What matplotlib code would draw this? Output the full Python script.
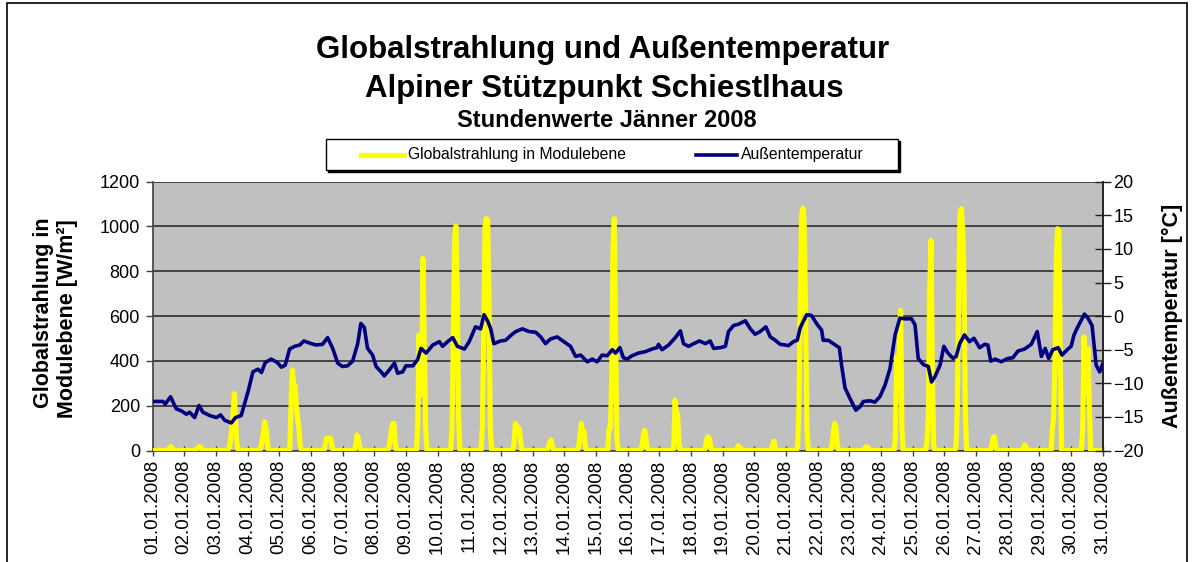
import matplotlib
matplotlib.use("Agg")
import matplotlib.pyplot as plt
from matplotlib.patches import Rectangle
from matplotlib.lines import Line2D
import numpy as np

plt.rcParams['font.family'] = ['Liberation Sans', 'DejaVu Sans']

# ---------------- data ----------------
date_labels = ["%02d.01.2008" % d for d in range(1, 32)]

# hours of the day for which radiation values are listed (others are 0)
rad_hours = [8, 9, 10, 11, 12, 13, 14, 15, 16, 17]
rad_daily = [
    [0, 0, 0, 0, 5, 12, 17, 10, 0, 0],          # 01.01
    [0, 0, 8, 15, 17, 10, 0, 0, 0, 0],          # 02.01
    [0, 0, 10, 40, 90, 150, 254, 128, 30, 0],   # 03.01
    [0, 0, 10, 40, 80, 128, 100, 40, 0, 0],     # 04.01
    [0, 200, 358, 290, 289, 200, 143, 98, 20, 0],  # 05.01
    [0, 0, 0, 30, 54, 54, 54, 54, 20, 0],       # 06.01
    [0, 0, 20, 69, 50, 15, 0, 0, 0, 0],         # 07.01
    [0, 0, 0, 10, 40, 90, 121, 121, 40, 0],     # 08.01
    [0, 100, 515, 350, 250, 857, 500, 100, 0, 0],   # 09.01
    [0, 0, 0, 100, 500, 950, 1002, 700, 150, 0],    # 10.01
    [0, 0, 100, 500, 1000, 1035, 1030, 700, 100, 0],# 11.01
    [0, 0, 30, 121, 110, 100, 98, 40, 0, 0],    # 12.01
    [0, 0, 0, 0, 15, 35, 47, 20, 0, 0],         # 13.01
    [0, 0, 0, 20, 60, 121, 60, 87, 20, 0],      # 14.01
    [0, 0, 98, 100, 300, 900, 1035, 500, 50, 0],# 15.01
    [0, 0, 0, 20, 70, 91, 60, 10, 0, 0],        # 16.01
    [0, 0, 0, 10, 225, 175, 160, 30, 0, 0],     # 17.01
    [0, 0, 0, 10, 50, 61, 55, 20, 0, 0],        # 18.01
    [0, 0, 0, 8, 22, 15, 5, 0, 0, 0],           # 19.01
    [0, 0, 0, 0, 0, 5, 20, 42, 10, 0],          # 20.01
    [0, 20, 200, 700, 1050, 1082, 1000, 600, 100, 0],  # 21.01
    [0, 0, 0, 20, 80, 121, 100, 30, 0, 0],      # 22.01
    [0, 0, 0, 0, 10, 17, 15, 5, 0, 0],          # 23.01
    [0, 0, 0, 50, 418, 290, 450, 626, 100, 0],  # 24.01
    [0, 0, 0, 40, 150, 700, 938, 400, 20, 0],   # 25.01
    [0, 20, 200, 700, 1050, 1080, 1000, 767, 200, 0],  # 26.01
    [0, 0, 0, 0, 20, 55, 61, 20, 0, 0],         # 27.01
    [0, 0, 0, 0, 10, 25, 15, 0, 0, 0],          # 28.01
    [0, 0, 98, 150, 400, 850, 990, 980, 400, 0],# 29.01
    [0, 100, 507, 262, 300, 455, 200, 0, 0, 0], # 30.01
]

# temperature readings: time in days since 01.01.2008 00:00, value in °C
temp_days = [0.0, 0.33, 0.40, 0.57, 0.75, 0.91, 1.07, 1.17, 1.33, 1.47, 1.59, 1.81,
             2.02, 2.15, 2.28, 2.49, 2.62, 2.80, 3.02, 3.17, 3.33, 3.44, 3.56, 3.75,
             3.94, 4.07, 4.19, 4.33, 4.49, 4.65, 4.78, 5.02, 5.16, 5.37, 5.53, 5.69,
             5.85, 6.00, 6.16, 6.32, 6.48, 6.58, 6.69, 6.79, 6.95, 7.06, 7.22, 7.32,
             7.48, 7.64, 7.74, 7.90, 8.00, 8.22, 8.37, 8.48, 8.64, 8.85, 9.06, 9.16,
             9.32, 9.48, 9.63, 9.85, 10.0, 10.20, 10.36, 10.47, 10.59, 10.68, 10.78,
             10.99, 11.15, 11.31, 11.47, 11.68, 11.89, 12.10, 12.26, 12.41, 12.57,
             12.78, 12.99, 13.20, 13.36, 13.52, 13.73, 13.89, 14.04, 14.20, 14.36,
             14.52, 14.62, 14.76, 14.87, 14.99, 15.14, 15.35, 15.56, 15.77, 15.93,
             15.98, 16.09, 16.30, 16.51, 16.67, 16.77, 16.93, 17.09, 17.27, 17.46,
             17.61, 17.72, 17.93, 18.09, 18.19, 18.35, 18.51, 18.72, 18.88, 19.03,
             19.19, 19.37, 19.51, 19.67, 19.82, 19.98, 20.08, 20.24, 20.36, 20.45,
             20.55, 20.66, 20.81, 20.97, 21.13, 21.18, 21.34, 21.50, 21.69, 21.76,
             21.87, 22.02, 22.21, 22.34, 22.45, 22.66, 22.81, 22.97, 23.13, 23.29,
             23.45, 23.60, 23.76, 23.97, 24.08, 24.18, 24.34, 24.50, 24.60, 24.71,
             24.87, 24.99, 25.12, 25.28, 25.38, 25.49, 25.64, 25.80, 25.94, 26.12,
             26.28, 26.38, 26.47, 26.61, 26.80, 27.01, 27.17, 27.33, 27.54, 27.75,
             27.94, 28.07, 28.19, 28.30, 28.43, 28.60, 28.72, 28.91, 29.01, 29.10,
             29.22, 29.43, 29.54, 29.67, 29.80, 29.91, 30.0]
temp_vals = [-12.7, -12.7, -13.1, -12.0, -13.8, -14.1, -14.6, -14.3, -15.1, -13.3, -14.3, -14.8,
             -15.1, -14.7, -15.5, -15.9, -15.1, -14.8, -11.2, -8.3, -7.9, -8.4, -6.9, -6.4,
             -6.9, -7.6, -7.3, -4.9, -4.5, -4.3, -3.7, -4.1, -4.3, -4.2, -3.2, -4.8,
             -7.0, -7.5, -7.4, -6.7, -4.1, -1.1, -1.7, -4.8, -5.8, -7.5, -8.3, -8.9,
             -8.0, -7.0, -8.5, -8.3, -7.4, -7.4, -6.5, -4.8, -5.5, -4.3, -3.8, -4.5,
             -3.8, -3.2, -4.5, -4.9, -3.8, -1.6, -1.9, 0.2, -0.8, -1.9, -4.1,
             -3.7, -3.6, -2.9, -2.3, -1.9, -2.3, -2.4, -3.1, -4.1, -3.4,
             -3.1, -3.8, -4.5, -6.0, -5.8, -6.8, -6.4, -6.8, -5.8, -5.9,
             -5.0, -5.5, -4.7, -6.2, -6.4, -5.9, -5.5, -5.3, -4.9, -4.7,
             -4.2, -5.0, -4.3, -3.2, -2.2, -4.1, -4.5, -4.1, -3.7, -4.1,
             -3.7, -4.8, -4.7, -4.5, -2.3, -1.4, -1.2, -0.7, -1.9, -2.7,
             -2.3, -1.6, -3.1, -3.6, -4.2, -4.3, -4.4, -3.8, -3.6, -1.8,
             -0.8, 0.2, 0.1, -1.1, -2.1, -3.6, -3.6, -4.1, -4.7, -7.3,
             -10.7, -12.2, -14.0, -13.5, -12.7, -12.6, -12.8, -12.0, -10.3, -7.8,
             -2.8, -0.3, -0.4, -0.4, -1.3, -6.3, -7.2, -7.5, -9.8, -9.0,
             -7.3, -4.5, -5.5, -6.3, -6.0, -4.1, -2.8, -3.8, -3.3, -4.7,
             -4.2, -4.3, -6.7, -6.4, -6.8, -6.3, -6.2, -5.2, -4.9, -4.2,
             -2.3, -6.0, -4.8, -6.3, -5.0, -4.7, -5.8, -4.9, -4.5, -2.8,
             -1.6, 0.3, -0.3, -1.4, -7.3, -8.3, -7.2]

# ---------------- build hourly radiation series ----------------
rad_t = []
rad_v = []
for day, vals in enumerate(rad_daily):
    hv = dict(zip(rad_hours, vals))
    for h in range(24):
        rad_t.append(day + h / 24.0)
        rad_v.append(hv.get(h, 0))
rad_t.append(len(rad_daily))
rad_v.append(0)

# ---------------- figure ----------------
W, H = 1194, 562
fig = plt.figure(figsize=(W / 100, H / 100), dpi=100)

def fx(x):
    return x / W

def fy(y):
    return 1 - y / H

# outer chart border
fig.patches.append(Rectangle((fx(7), -0.1), fx(1187) - fx(7), fy(3) + 0.1,
                             transform=fig.transFigure, fill=False,
                             edgecolor='black', linewidth=1.2, zorder=0))

left, right, top, bottom = 152.5, 1102.5, 181.7, 450.5
ax = fig.add_axes([fx(left), fy(bottom), fx(right) - fx(left), fy(top) - fy(bottom)])
ax.set_facecolor('#C0C0C0')
ax.set_xlim(0, 30)
ax.set_ylim(0, 1200)
ax.set_yticks(range(0, 1201, 200))
ax.yaxis.grid(True, color='#202020', linewidth=1.1)
ax.set_axisbelow(True)
ax.set_xticks(range(len(date_labels)))
ax.set_xticklabels(date_labels, rotation=90, fontsize=13.5)
ax.tick_params(axis='x', direction='inout', length=7, width=1, color='#404040', pad=3)
ax.tick_params(axis='y', direction='out', length=5, width=1, color='#404040',
               labelsize=13, pad=4)
ax.spines['top'].set_visible(False)
for s in ['left', 'bottom', 'right']:
    ax.spines[s].set_color('#404040')
    ax.spines[s].set_linewidth(1.2)

ax.plot(rad_t, rad_v, color='#FFFF00', linewidth=3.7, solid_joinstyle='round', zorder=3)

ax2 = ax.twinx()
ax2.set_ylim(-20, 20)
ax2.set_yticks(range(-20, 21, 5))
ax2.tick_params(axis='y', direction='inout', length=12, width=1, color='#202020',
                labelsize=13, pad=2)
for s in ['top', 'left', 'bottom']:
    ax2.spines[s].set_visible(False)
ax2.spines['right'].set_color('#202020')
ax2.spines['right'].set_linewidth(1.2)
ax2.plot(temp_days, temp_vals, color='#000080', linewidth=2.6, zorder=4)
ax2.set_xlim(0, 30)

# axis titles
fig.text(fx(44), fy(313), "Globalstrahlung in", rotation=90, ha='center', va='center',
         fontsize=15.5, fontweight='bold')
fig.text(fx(67), fy(319), "Modulebene [W/m²]", rotation=90, ha='center', va='center',
         fontsize=15.5, fontweight='bold')
fig.text(fx(1172), fy(316), "Außentemperatur [°C]", rotation=90, ha='center', va='center',
         fontsize=15.5, fontweight='bold')

# titles
fig.text(fx(603), fy(58), "Globalstrahlung und Außentemperatur", ha='center',
         va='baseline', fontsize=22.5, fontweight='bold')
fig.text(fx(604), fy(97), "Alpiner Stützpunkt Schiestlhaus", ha='center',
         va='baseline', fontsize=22.5, fontweight='bold')
fig.text(fx(607), fy(127), "Stundenwerte Jänner 2008", ha='center',
         va='baseline', fontsize=17, fontweight='bold')

# legend box
lx0, ly0, lx1, ly1 = 326, 139, 898, 170
fig.patches.append(Rectangle((fx(lx0) + 2 / W, fy(ly1) - 2 / H), fx(lx1) - fx(lx0), fy(ly0) - fy(ly1),
                             transform=fig.transFigure, facecolor='black',
                             edgecolor='black', linewidth=1, zorder=1))
fig.patches.append(Rectangle((fx(lx0), fy(ly1)), fx(lx1) - fx(lx0), fy(ly0) - fy(ly1),
                             transform=fig.transFigure, facecolor='white',
                             edgecolor='black', linewidth=1, zorder=2))
ly = 155
fig.lines.append(Line2D([fx(361), fx(404)], [fy(ly), fy(ly)], transform=fig.transFigure,
                        color='#FFFF00', linewidth=3.7, zorder=3))
fig.text(fx(408), fy(ly), "Globalstrahlung in Modulebene", ha='left', va='center',
         fontsize=11.3, zorder=3)
fig.lines.append(Line2D([fx(696), fx(737)], [fy(ly), fy(ly)], transform=fig.transFigure,
                        color='#000080', linewidth=2.6, zorder=3))
fig.text(fx(741), fy(ly), "Außentemperatur", ha='left', va='center',
         fontsize=11.3, zorder=3)

fig.savefig("out.png", dpi=100)
